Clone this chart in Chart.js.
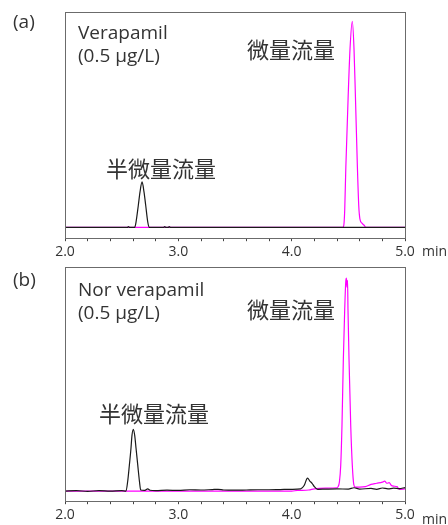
<!DOCTYPE html>
<html>
<head>
<meta charset="utf-8">
<script src="https://cdn.jsdelivr.net/npm/chart.js@4.4.0/dist/chart.umd.min.js"></script>
<style>
  html, body { margin: 0; padding: 0; background: #fff; }
  #wrap { position: relative; width: 448px; height: 525px; overflow: hidden; font-family: "Open Sans", "Noto Sans CJK JP", sans-serif; color: #333; }
  canvas { position: absolute; left: 0; }
  .lbl { position: absolute; white-space: nowrap; font-size: 19px; line-height: 23px; }
  .jp { position: absolute; white-space: nowrap; font-family: "Noto Sans CJK JP", sans-serif; font-size: 22px; line-height: 22px; }
  .unit { position: absolute; font-size: 14px; line-height: 16px; }
</style>
</head>
<body>
<div id="wrap">
  <canvas id="chartA" style="top:0px"></canvas>
  <canvas id="chartB" style="top:262px"></canvas>

  <div class="lbl" style="left:13px; top:10px;">(a)</div>
  <div class="lbl" style="left:78px; top:21px;">Verapamil<br>(0.5 µg/L)</div>
  <div class="jp" style="left:247px; top:37px;">微量流量</div>
  <div class="jp" style="left:106px; top:156px;">半微量流量</div>
  <div class="unit" style="left:422px; top:243px;">min</div>

  <div class="lbl" style="left:13px; top:268px;">(b)</div>
  <div class="lbl" style="left:78px; top:278px;">Nor verapamil<br>(0.5 µg/L)</div>
  <div class="jp" style="left:247px; top:297px;">微量流量</div>
  <div class="jp" style="left:99px; top:401px;">半微量流量</div>
  <div class="unit" style="left:422px; top:511px;">min</div>
</div>

<script>

// (a) Verapamil
const timeA_semi = [2.00, 2.55, 2.56, 2.57, 2.615, 2.627, 2.647, 2.662, 2.68, 2.697, 2.712, 2.73, 2.745, 2.87, 2.88, 2.89, 2.91, 2.92, 2.93, 5.00];
const sigA_semi  = [0, 0, 0.4, 0, 0, 2.6, 10.3, 16.5, 21.1, 16.5, 10.3, 2.6, 0, 0, 0.4, 0, 0, 0.4, 0, 0];
const timeA_micro = [2.00, 4.45, 4.46, 4.468, 4.478, 4.498, 4.515, 4.535, 4.55, 4.563, 4.58, 4.592, 4.602, 4.62, 4.64, 4.655, 5.00];
const sigA_micro  = [0, 0, 1, 8, 28, 60, 83, 95.7, 83, 60, 28, 10, 4, 2, 1, 0, 0];

// (b) Nor verapamil
const timeB_semi = [2.00, 2.10, 2.20, 2.30, 2.40, 2.50, 2.538, 2.553, 2.568, 2.582, 2.591, 2.603, 2.615, 2.627, 2.642, 2.657, 2.668, 2.70, 2.73, 2.75, 2.80, 2.90, 3.00, 3.10, 3.20, 3.30, 3.35, 3.40, 3.50, 3.60, 3.70, 3.80, 3.90, 4.00, 4.08, 4.11, 4.14, 4.16, 4.18, 4.20, 4.23, 4.30, 4.40, 4.50, 4.55, 4.60, 4.70, 4.75, 4.80, 4.85, 4.90, 4.95, 5.00];
const sigB_semi  = [0, 0.2, -0.1, 0.2, 0, 0.2, 0, 4.3, 11.6, 19, 24.9, 27.6, 24.9, 19, 11.6, 4.3, 0.5, 0.3, 1, 0.4, 0.2, 0.4, 0.3, 0.6, 0.5, 0.7, 0.8, 0.5, 0.4, 0.5, 0.6, 0.6, 0.7, 0.8, 1, 2.5, 5.8, 4.5, 3.5, 2, 0.8, 0.9, 1.0, 0.9, 1.5, 0.9, 1.2, 0.8, 1.4, 1.0, 1.3, 1.1, 1.6];
const timeB_micro = [2.00, 4.00, 4.05, 4.15, 4.20, 4.30, 4.40, 4.41, 4.421, 4.433, 4.444, 4.456, 4.468, 4.478, 4.483, 4.488, 4.493, 4.497, 4.506, 4.521, 4.535, 4.548, 4.56, 4.60, 4.65, 4.70, 4.75, 4.80, 4.82, 4.84, 4.86, 4.88, 4.90, 4.93, 4.95, 5.00];
const sigB_micro  = [0, 0, 0.3, 0.5, 1, 1.3, 1.5, 2, 4, 11.6, 29.4, 58.9, 81, 94, 95.1, 91, 94, 81, 58.9, 29.4, 11.6, 3, 1.8, 1.8, 2, 3, 3.5, 4, 4.5, 3.5, 3.8, 2.5, 2.2, 2, 0.8, 1];

const xTicks = [2.0, 3.0, 4.0, 5.0];

function toPoints(xs, ys) {
    return xs.map((x, i) => ({ x: x, y: ys[i] }));
}

// Cadre autour de la zone de tracé
const framePlugin = {
    id: 'frame',
    afterDraw(chart) {
        const a = chart.chartArea;
        const ctx = chart.ctx;
        ctx.save();
        ctx.strokeStyle = '#6b6b6b';
        ctx.lineWidth = 1;
        ctx.strokeRect(Math.round(a.left) + 0.5, Math.round(a.top) + 0.5, Math.round(a.right - a.left), Math.round(a.bottom - a.top));
        ctx.restore();
    }
};

function makeChart(id, height, pad, semi, micro, yMin) {
    const canvas = document.getElementById(id);
    canvas.width = 448;
    canvas.height = height;
    canvas.style.width = '448px';
    canvas.style.height = height + 'px';
    return new Chart(canvas.getContext('2d'), {
        type: 'line',
        data: {
            datasets: [
                {
                    data: semi,
                    borderColor: '#1a1a1a',
                    borderWidth: 1.2,
                    pointRadius: 0,
                    cubicInterpolationMode: 'monotone',
                    order: 1
                },
                {
                    data: micro,
                    borderColor: '#ff00ff',
                    borderWidth: 1.2,
                    pointRadius: 0,
                    cubicInterpolationMode: 'monotone',
                    order: 2
                }
            ]
        },
        options: {
            responsive: false,
            animation: false,
            events: [],
            layout: { padding: pad },
            plugins: { legend: { display: false }, tooltip: { enabled: false } },
            scales: {
                x: {
                    type: 'linear',
                    min: 2.0,
                    max: 5.0,
                    border: { display: false },
                    grid: { drawOnChartArea: false, tickLength: 3, color: '#444' },
                    ticks: {
                        stepSize: 0.2,
                        autoSkip: false,
                        maxRotation: 0,
                        padding: 2,
                        color: '#333',
                        font: { family: '"Open Sans", sans-serif', size: 14 },
                        callback: function (v) {
                            const hit = xTicks.find(t => Math.abs(t - v) < 1e-6);
                            return hit !== undefined ? hit.toFixed(1) : '';
                        }
                    }
                },
                y: { display: false, min: yMin, max: 100 }
            }
        },
        plugins: [framePlugin]
    });
}

makeChart('chartA', 262, { left: 65, right: 43, top: 12, bottom: 0 },
    toPoints(timeA_semi, sigA_semi), toPoints(timeA_micro, sigA_micro), -5);
makeChart('chartB', 263, { left: 65, right: 43, top: 5, bottom: 0 },
    toPoints(timeB_semi, sigB_semi), toPoints(timeB_micro, sigB_micro), -4.5);
</script>
</body>
</html>
